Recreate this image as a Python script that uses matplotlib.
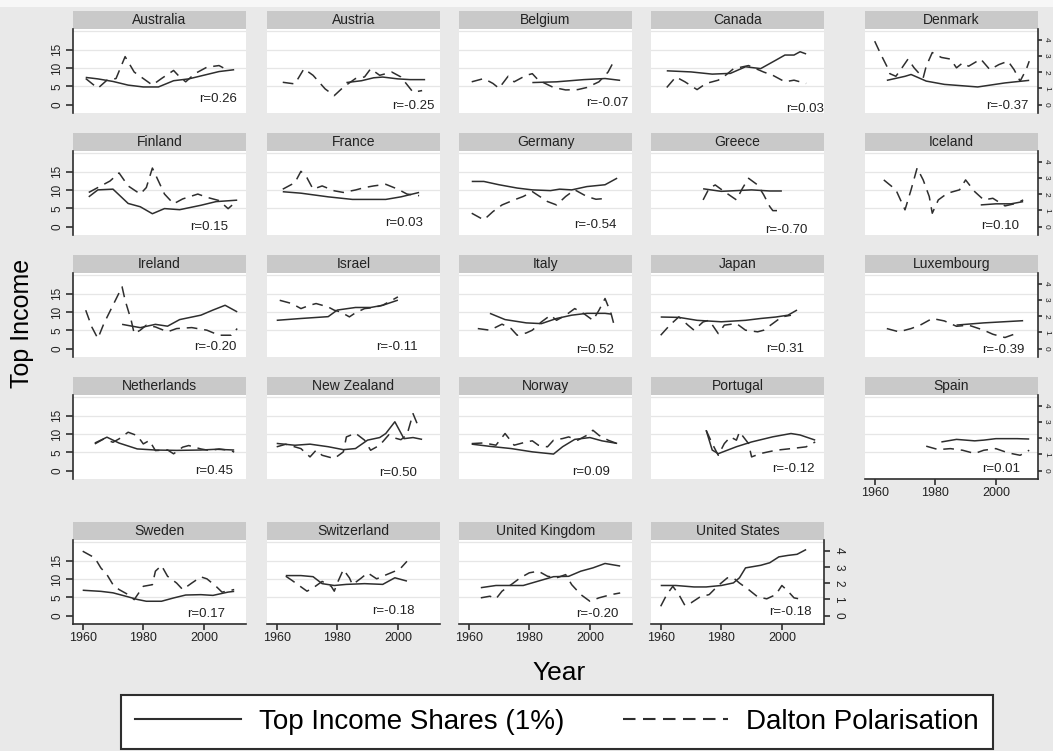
import matplotlib
matplotlib.use("Agg")
import matplotlib.pyplot as plt
from matplotlib.patches import Rectangle
from matplotlib.lines import Line2D

plt.rcParams['font.family'] = ['Liberation Sans', 'DejaVu Sans']

countries = ["Australia", "Austria", "Belgium", "Canada", "Denmark",
             "Finland", "France", "Germany", "Greece", "Iceland",
             "Ireland", "Israel", "Italy", "Japan", "Luxembourg",
             "Netherlands", "New Zealand", "Norway", "Portugal", "Spain",
             "Sweden", "Switzerland", "United Kingdom", "United States"]

r_values = [0.26, -0.25, -0.07, 0.03, -0.37,
            0.15, 0.03, -0.54, -0.70, 0.10,
            -0.20, -0.11, 0.52, 0.31, -0.39,
            0.45, 0.50, 0.09, -0.12, 0.01,
            0.17, -0.18, -0.20, -0.18]

# top 1% income share (left axis)
top_years = {
    "Australia": [1961, 1965, 1970, 1975, 1980, 1985, 1990, 1995, 2000, 2005, 2010],
    "Austria": [1983, 1988, 1992, 1995, 2000, 2004, 2009],
    "Belgium": [1981, 1989, 1998, 2005, 2010],
    "Canada": [1962, 1970, 1977, 1983, 1988, 1993, 1998, 2001, 2004, 2006, 2008],
    "Denmark": [1964, 1970, 1972, 1977, 1983, 1994, 2003, 2011],
    "Finland": [1962, 1965, 1970, 1975, 1979, 1983, 1987, 1992, 1999, 2004, 2011],
    "France": [1962, 1968, 1977, 1985, 1996, 2001, 2007],
    "Germany": [1961, 1965, 1970, 1976, 1981, 1987, 1990, 1994, 1999, 2005, 2009],
    "Greece": [1974, 1980, 1985, 1990, 1996, 2000],
    "Iceland": [1995, 2000, 2005, 2009],
    "Ireland": [1973, 1979, 1984, 1988, 1992, 1999, 2003, 2007, 2011],
    "Israel": [1960, 1968, 1977, 1980, 1986, 1991, 1995, 2000],
    "Italy": [1967, 1972, 1979, 1984, 1989, 1994, 1999, 2005, 2007],
    "Japan": [1960, 1966, 1972, 1980, 1988, 1993, 1998, 2002, 2005],
    "Luxembourg": [1987, 1996, 2009],
    "Netherlands": [1964, 1968, 1972, 1978, 1984, 1991, 1999, 2004, 2010],
    "New Zealand": [1960, 1966, 1971, 1977, 1982, 1986, 1990, 1994, 1996, 1999, 2002, 2005, 2008],
    "Norway": [1961, 1967, 1974, 1981, 1988, 1991, 1995, 2000, 2004, 2009],
    "Portugal": [1975, 1977, 1979, 1985, 1990, 1997, 2003, 2006, 2011],
    "Spain": [1982, 1987, 1993, 1996, 2000, 2007, 2011],
    "Sweden": [1960, 1966, 1970, 1975, 1978, 1981, 1986, 1990, 1994, 1999, 2003, 2008, 2010],
    "Switzerland": [1963, 1968, 1972, 1975, 1979, 1983, 1989, 1995, 1999, 2003],
    "United Kingdom": [1964, 1969, 1974, 1978, 1983, 1988, 1993, 1997, 2001, 2005, 2010],
    "United States": [1960, 1965, 1971, 1975, 1980, 1984, 1986, 1988, 1993, 1996, 1999, 2002, 2005, 2008],
}
top_share = {
    "Australia": [7.4, 7.0, 6.3, 5.3, 4.8, 4.8, 6.5, 7.0, 8.0, 9.0, 9.5],
    "Austria": [6.0, 6.5, 7.3, 7.5, 7.0, 6.8, 6.8],
    "Belgium": [6.0, 6.2, 6.8, 7.1, 6.6],
    "Canada": [9.2, 8.9, 8.3, 8.5, 10.3, 9.8, 12.1, 13.5, 13.5, 14.4, 13.8],
    "Denmark": [6.6, 7.7, 8.2, 6.4, 5.5, 4.8, 5.9, 6.6],
    "Finland": [8.1, 10.0, 10.2, 6.3, 5.4, 3.5, 4.9, 4.6, 5.8, 6.8, 7.2],
    "France": [9.5, 9.1, 8.1, 7.4, 7.4, 8.1, 9.3],
    "Germany": [12.3, 12.3, 11.4, 10.5, 10.0, 9.8, 10.2, 10.0, 10.9, 11.4, 13.2],
    "Greece": [10.3, 9.6, 9.8, 10.0, 9.7, 9.7],
    "Iceland": [5.9, 6.2, 6.2, 6.8],
    "Ireland": [6.6, 5.7, 6.6, 6.1, 7.9, 9.1, 10.5, 11.8, 10.0],
    "Israel": [7.7, 8.2, 8.7, 10.5, 11.2, 11.2, 11.8, 13.2],
    "Italy": [9.6, 7.9, 7.0, 6.8, 8.2, 9.1, 9.6, 9.6, 9.4],
    "Japan": [8.6, 8.5, 7.7, 7.3, 7.7, 8.2, 8.6, 9.1, 10.5],
    "Luxembourg": [6.4, 7.0, 7.6],
    "Netherlands": [7.5, 9.1, 7.5, 5.9, 5.6, 5.5, 5.6, 5.8, 5.6],
    "New Zealand": [7.4, 6.9, 7.2, 6.5, 5.7, 6.0, 8.3, 9.0, 10.1, 13.3, 8.7, 9.0, 8.5],
    "Norway": [7.2, 6.6, 6.0, 5.1, 4.5, 6.5, 8.5, 9.0, 8.1, 7.4],
    "Portugal": [11.0, 5.6, 4.6, 6.5, 7.8, 9.2, 10.1, 9.7, 8.3],
    "Spain": [7.8, 8.5, 8.1, 8.3, 8.7, 8.7, 8.6],
    "Sweden": [6.9, 6.6, 6.2, 5.1, 4.4, 3.9, 3.9, 4.8, 5.6, 5.7, 5.5, 6.4, 6.6],
    "Switzerland": [10.9, 10.9, 10.6, 8.7, 8.2, 8.5, 8.7, 8.5, 10.3, 9.4],
    "United Kingdom": [7.6, 8.2, 8.2, 8.2, 9.4, 10.6, 10.7, 12.1, 13.0, 14.2, 13.5],
    "United States": [8.2, 8.2, 7.8, 7.8, 8.2, 8.9, 10.3, 13.0, 13.7, 14.4, 16.0, 16.4, 16.7, 18.0],
}

# Dalton polarisation index (right axis)
dalton_years = {
    "Australia": [1961, 1965, 1968, 1971, 1974, 1977, 1980, 1983, 1986, 1990, 1992, 1994, 1997, 2001, 2005, 2008],
    "Austria": [1962, 1966, 1969, 1972, 1976, 1979, 1982, 1986, 1989, 1991, 1994, 1998, 2001, 2005, 2008],
    "Belgium": [1961, 1965, 1968, 1970, 1973, 1975, 1979, 1981, 1983, 1988, 1992, 1996, 1999, 2003, 2006, 2008],
    "Canada": [1962, 1965, 1968, 1972, 1975, 1979, 1981, 1984, 1989, 1994, 1997, 2001, 2004, 2008],
    "Denmark": [1960, 1962, 1964, 1965, 1967, 1969, 1971, 1973, 1976, 1977, 1979, 1982, 1985, 1987, 1989, 1991,
                1995, 1998, 2001, 2004, 2006, 2008, 2010, 2011],
    "Finland": [1962, 1965, 1969, 1972, 1975, 1979, 1981, 1983, 1987, 1990, 1993, 1998, 2001, 2005, 2008, 2011],
    "France": [1962, 1966, 1968, 1970, 1972, 1975, 1979, 1982, 1986, 1989, 1992, 1996, 2000, 2003, 2007],
    "Germany": [1961, 1965, 1968, 1971, 1975, 1978, 1981, 1986, 1989, 1992, 1995, 1999, 2002, 2006],
    "Greece": [1974, 1976, 1978, 1981, 1985, 1987, 1989, 1992, 1994, 1996, 1997, 1999],
    "Iceland": [1963, 1967, 1970, 1972, 1974, 1976, 1978, 1979, 1981, 1984, 1988, 1990, 1993, 1996, 1999,
                2003, 2007, 2009],
    "Ireland": [1961, 1963, 1965, 1967, 1970, 1973, 1974, 1976, 1977, 1979, 1981, 1984, 1988, 1991, 1996,
                2001, 2005, 2009, 2011],
    "Israel": [1961, 1965, 1968, 1971, 1973, 1977, 1979, 1981, 1984, 1986, 1989, 1992, 1995, 1998, 2000],
    "Italy": [1963, 1967, 1971, 1974, 1976, 1979, 1981, 1984, 1987, 1989, 1992, 1995, 1998, 2001, 2003,
              2005, 2007, 2008],
    "Japan": [1960, 1963, 1966, 1969, 1971, 1974, 1976, 1979, 1981, 1985, 1988, 1992, 1994, 1997, 2000, 2003],
    "Luxembourg": [1964, 1968, 1972, 1975, 1979, 1983, 1987, 1991, 1996, 1999, 2003, 2006],
    "Netherlands": [1964, 1967, 1970, 1972, 1975, 1978, 1980, 1982, 1984, 1988, 1990, 1993, 1995, 1999,
                    2002, 2005, 2009, 2010],
    "New Zealand": [1960, 1963, 1968, 1971, 1973, 1975, 1979, 1982, 1983, 1986, 1989, 1991, 1994, 1997,
                    1999, 2001, 2003, 2005, 2007],
    "Norway": [1961, 1965, 1969, 1972, 1975, 1979, 1981, 1983, 1986, 1988, 1991, 1993, 1996, 1999, 2001,
               2003, 2006, 2009],
    "Portugal": [1975, 1977, 1979, 1981, 1983, 1985, 1986, 1989, 1990, 1993, 1998, 2003, 2008, 2011],
    "Spain": [1977, 1981, 1985, 1989, 1993, 1996, 2000, 2004, 2008, 2011],
    "Sweden": [1960, 1964, 1966, 1968, 1970, 1972, 1975, 1977, 1980, 1983, 1984, 1986, 1988, 1991, 1993,
               1996, 1999, 2001, 2004, 2006, 2010],
    "Switzerland": [1963, 1965, 1967, 1970, 1972, 1975, 1978, 1979, 1980, 1982, 1984, 1985, 1988, 1990,
                    1993, 1995, 1999, 2001, 2003],
    "United Kingdom": [1964, 1967, 1969, 1971, 1974, 1977, 1980, 1983, 1986, 1989, 1992, 1994, 1997, 2000,
                       2003, 2007, 2010],
    "United States": [1960, 1962, 1964, 1966, 1968, 1970, 1973, 1976, 1979, 1982, 1984, 1986, 1989, 1992,
                      1995, 1998, 2000, 2002, 2004, 2007],
}
dalton = {
    "Australia": [1.6, 1.0, 1.5, 1.6, 2.95, 2.0, 1.6, 1.2, 1.6, 2.1, 1.7, 1.4, 1.9, 2.3, 2.4, 2.1],
    "Austria": [1.37, 1.27, 2.2, 1.8, 0.96, 0.55, 1.07, 1.6, 1.7, 2.2, 1.8, 2.0, 1.7, 0.76, 0.86],
    "Belgium": [1.4, 1.6, 1.3, 1.0, 1.74, 1.4, 1.8, 1.9, 1.5, 1.05, 0.9, 0.92, 1.05, 1.4, 2.0, 2.7],
    "Canada": [1.05, 1.7, 1.4, 0.92, 1.3, 1.5, 1.74, 2.2, 2.4, 2.0, 1.8, 1.4, 1.5, 1.3],
    "Denmark": [3.9, 3.1, 2.36, 1.9, 1.74, 2.26, 2.8, 2.26, 1.64, 2.36, 3.2, 2.9, 2.8, 2.26, 2.56, 2.36,
                2.8, 2.15, 2.46, 2.67, 2.15, 1.44, 2.15, 2.67],
    "Finland": [2.1, 2.4, 2.8, 3.3, 2.5, 2.0, 2.4, 3.6, 2.0, 1.4, 1.7, 2.0, 1.8, 1.6, 1.1, 1.6],
    "France": [2.3, 2.7, 3.4, 3.0, 2.3, 2.5, 2.2, 2.1, 2.25, 2.4, 2.5, 2.6, 2.3, 2.0, 1.9],
    "Germany": [0.82, 0.41, 0.92, 1.33, 1.64, 1.85, 2.15, 1.54, 1.33, 1.85, 2.26, 1.85, 1.68, 1.74],
    "Greece": [1.64, 2.36, 2.56, 2.15, 1.64, 2.36, 2.97, 2.56, 1.95, 1.23, 0.98, 0.98],
    "Iceland": [2.87, 2.26, 1.03, 2.26, 3.6, 2.87, 1.85, 0.82, 1.64, 2.05, 2.26, 2.87, 2.15, 1.64, 1.74,
                1.27, 1.44, 1.64],
    "Ireland": [2.36, 1.33, 0.62, 1.54, 2.67, 3.8, 2.97, 1.74, 0.92, 1.13, 1.44, 1.33, 1.03, 1.23, 1.29,
                1.13, 0.82, 0.82, 1.23],
    "Israel": [2.97, 2.77, 2.46, 2.67, 2.77, 2.56, 2.36, 2.26, 1.95, 2.2, 2.46, 2.52, 2.67, 2.97, 3.18],
    "Italy": [1.23, 1.13, 1.5, 1.23, 0.82, 0.96, 1.13, 1.64, 2.05, 1.74, 2.05, 2.46, 2.15, 1.74, 2.36,
              3.08, 2.15, 1.44],
    "Japan": [0.82, 1.44, 1.95, 1.44, 1.13, 1.64, 1.74, 0.92, 1.44, 1.54, 1.13, 1.03, 1.13, 1.54, 1.95, 2.05],
    "Luxembourg": [1.23, 1.03, 1.23, 1.44, 1.85, 1.7, 1.37, 1.44, 1.13, 0.88, 0.68, 0.88],
    "Netherlands": [1.64, 1.95, 1.74, 1.95, 2.36, 2.15, 1.64, 1.85, 1.23, 1.27, 1.03, 1.44, 1.54, 1.33,
                    1.23, 1.33, 1.23, 1.13],
    "New Zealand": [1.46, 1.62, 1.35, 0.84, 1.25, 0.94, 0.74, 1.15, 2.07, 2.3, 1.87, 1.25, 1.56, 2.2,
                    2.0, 1.9, 2.2, 3.5, 2.6],
    "Norway": [1.66, 1.7, 1.56, 2.28, 1.56, 1.76, 1.83, 1.56, 1.46, 1.87, 1.97, 2.07, 1.87, 2.17, 2.48,
               2.17, 1.87, 1.66],
    "Portugal": [2.48, 1.66, 0.94, 1.66, 2.07, 1.87, 2.38, 1.66, 0.84, 1.05, 1.25, 1.35, 1.46, 1.76],
    "Spain": [1.5, 1.29, 1.35, 1.25, 1.05, 1.25, 1.35, 1.09, 0.94, 1.25],
    "Sweden": [3.96, 3.55, 2.93, 2.52, 1.9, 1.6, 1.29, 0.98, 1.8, 1.9, 2.73, 3.08, 2.42, 2.0, 1.6,
               2.0, 2.38, 2.26, 1.8, 1.44, 1.6],
    "Switzerland": [2.42, 2.17, 1.9, 1.5, 1.7, 2.1, 1.8, 1.5, 2.0, 2.83, 2.32, 1.9, 2.32, 2.63,
                    2.26, 2.42, 2.73, 2.93, 3.34],
    "United Kingdom": [1.09, 1.19, 1.03, 1.5, 1.9, 2.32, 2.63, 2.73, 2.42, 2.32, 2.52, 1.9, 1.29, 0.88,
                       1.09, 1.29, 1.39],
    "United States": [0.57, 1.29, 1.8, 1.29, 0.62, 0.78, 1.15, 1.29, 1.85, 2.32, 2.32, 2.0, 1.6, 1.15,
                      1.03, 1.29, 1.85, 1.5, 1.09, 0.98],
}

# where each correlation note sits (year, top-share units)
r_pos = [(2010.9, 1.6), (2012.2, -0.3), (2012.9, 0.3), (2014.0, -1.1), (2010.6, -0.3),
         (2008.0, 0.0), (2008.3, 0.9), (2008.9, 0.5), (2008.3, -1.0), (2007.6, 0.2),
         (2010.9, 0.3), (2006.6, 0.4), (2008.0, -0.3), (2007.3, 0.0), (2009.3, -0.3),
         (2009.6, 0.0), (2006.3, -0.8), (2006.6, -0.4), (2010.9, 0.3), (2008.0, 0.5),
         (2007.0, 0.3), (2005.6, 1.2), (2009.3, 0.5), (2009.9, 0.9)]

W, H = 1053, 751
bg = "#e9e9e9"
ink = "#2e2e2e"
fig = plt.figure(figsize=(W / 100, H / 100), dpi=100, facecolor=bg)
fig.patches.append(Rectangle((0, 1 - 7 / H), 1, 7 / H, transform=fig.transFigure,
                             facecolor="#f7f7f7", edgecolor="none", zorder=0))

col_left = [73, 267, 459, 651, 865]
row_top = [11, 133, 255, 377, 522]
panel_w, strip_h, plot_h = 173, 18, 84

for i, name in enumerate(countries):
    row, col = divmod(i, 5)
    x0 = col_left[col]
    y_bot = row_top[row] + strip_h + plot_h
    ax = fig.add_axes([x0 / W, 1 - y_bot / H, panel_w / W, plot_h / H])
    ax.set_facecolor("white")
    ax.set_xlim(1956.8, 2013.9)
    ax.set_ylim(-2.3, 20.6)
    for g in (5, 10, 15, 20):
        ax.axhline(g, color="#e6e6e6", lw=0.9, zorder=0)

    ax.plot(top_years[name], top_share[name], color=ink, lw=1.1, solid_capstyle="butt")

    ax2 = ax.twinx()
    ax2.set_ylim(-0.52, 4.65)
    ax2.plot(dalton_years[name], dalton[name], color=ink, lw=1.1, dashes=(7, 4.5))

    for a in (ax, ax2):
        for s in a.spines.values():
            s.set_visible(False)
            s.set_linewidth(1.2)
            s.set_color(ink)

    # strip with the country name
    ax.add_patch(Rectangle((0, 1), 1, strip_h / plot_h, transform=ax.transAxes,
                           clip_on=False, facecolor="#c9c9c9", edgecolor="none"))
    ax.text(0.5, 1 + strip_h / plot_h / 2, name, transform=ax.transAxes,
            ha="center", va="center", fontsize=10, color="#222222")

    rx, ry = r_pos[i]
    ax.text(rx, ry, f"r={r_values[i]:.2f}", ha="right", va="center", fontsize=9.5, color="#222222")

    show_x = row == 4 or name == "Spain"
    show_left = col == 0
    show_right = col == 4 or name == "United States"
    edge_col = col == 4

    ax.set_xticks([1960, 1980, 2000])
    ax.set_yticks([0, 5, 10, 15])
    ax2.set_yticks([0, 1, 2, 3, 4])
    ax.tick_params(axis="x", bottom=show_x, labelbottom=show_x, length=4, width=1.2,
                   color=ink, labelsize=9, pad=2, labelcolor="#222222")
    ax.tick_params(axis="y", left=show_left, labelleft=show_left, length=5, width=1.2,
                   color=ink, labelsize=8.5, pad=2, labelcolor="#222222")
    ax2.tick_params(axis="y", right=show_right, labelright=show_right,
                    length=3 if edge_col else 4, width=1.2, color=ink,
                    labelsize=6 if edge_col else 8.5, pad=0.5 if edge_col else 2,
                    labelcolor="#222222")
    ax2.tick_params(axis="x", bottom=False, labelbottom=False)
    if show_x:
        ax.spines["bottom"].set_visible(True)
    if show_left:
        ax.spines["left"].set_visible(True)
        plt.setp(ax.get_yticklabels(), rotation=90, va="center")
    if show_right:
        ax2.spines["right"].set_visible(True)
        plt.setp(ax2.get_yticklabels(), rotation=-90, va="center")

fig.text(22 / W, 1 - 323 / H, "Top Income", rotation=90, fontsize=18, ha="center", va="center")
fig.text(559 / W, 1 - 673 / H, "Year", fontsize=19, ha="center", va="center")

handles = [Line2D([], [], color=ink, lw=1.5),
           Line2D([], [], color=ink, lw=1.5, dashes=(6, 3.6))]
leg = fig.legend(handles, ["Top Income Shares (1%)", "Dalton Polarisation"],
                 loc="center", bbox_to_anchor=(557 / W, 1 - 722 / H), ncol=2, fontsize=20,
                 frameon=True, fancybox=False, framealpha=1, edgecolor=ink,
                 handlelength=3.8, handletextpad=0.65, columnspacing=2.1, borderpad=0.5)
leg.get_frame().set_linewidth(1.5)

fig.savefig("out.png", dpi=100, facecolor=fig.get_facecolor())
